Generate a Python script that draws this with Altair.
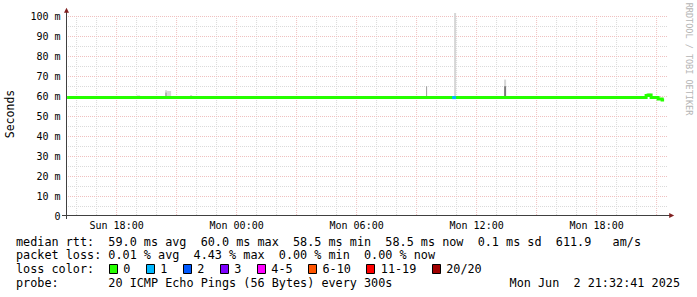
import altair as alt
import pandas as pd

FONT = "DejaVu Sans Mono"

# ---------------- data ----------------
# median RTT (ms) as step values, times in UTC
median_times = [
    "2025-06-01T15:33:00Z", "2025-06-01T19:12:00Z", "2025-06-01T22:12:00Z",
    "2025-06-02T04:42:00Z", "2025-06-02T10:48:00Z", "2025-06-02T11:00:00Z",
    "2025-06-02T17:12:00Z", "2025-06-02T20:30:00Z", "2025-06-02T20:36:00Z",
    "2025-06-02T20:45:00Z", "2025-06-02T21:06:00Z", "2025-06-02T21:18:00Z",
    "2025-06-02T21:24:00Z",
]
median_values = [59.2, 59.2, 59.2, 59.2, 59.2, 59.2, 59.2, 60.2, 60.5,
                 59.2, 58.5, 58.0, 58.0]

# periods with packet loss (number of lost pings) drawn on the median line
loss_start = ["2025-06-02T10:48:00Z"]
loss_end = ["2025-06-02T11:00:00Z"]
loss_value = [59.2]
loss_count = ["1"]

# smoke (spread of the 20 pings)
smoke_start = ["2025-06-01T19:02:00Z", "2025-06-01T20:27:00Z", "2025-06-01T20:27:00Z",
               "2025-06-01T20:33:00Z", "2025-06-01T21:42:00Z", "2025-06-02T09:30:00Z",
               "2025-06-02T10:54:00Z", "2025-06-02T13:24:00Z", "2025-06-02T13:24:00Z",
               "2025-06-02T20:36:00Z"]
smoke_end = ["2025-06-01T19:12:00Z", "2025-06-01T20:33:00Z", "2025-06-01T20:33:00Z",
             "2025-06-01T20:45:00Z", "2025-06-01T21:48:00Z", "2025-06-02T09:33:00Z",
             "2025-06-02T11:00:00Z", "2025-06-02T13:30:00Z", "2025-06-02T13:30:00Z",
             "2025-06-02T20:45:00Z"]
smoke_low = [59.2, 59.2, 59.2, 59.2, 59.2, 59.2, 59.2, 64.9, 59.2, 59.8]
smoke_high = [60.3, 62.9, 61.7, 62.5, 60.5, 64.9, 101.5, 68.2, 64.9, 61.3]
smoke_band = ["outer", "outer", "inner", "outer", "outer", "mid", "outer", "outer",
              "dark", "outer"]

y_ticks = [0, 10, 20, 30, 40, 50, 60, 70, 80, 90, 100]
y_minor = [5, 15, 25, 35, 45, 55, 65, 75, 85, 95]

rtt_stats = [59.0, 60.0, 58.5, 58.5, 0.1, 611.9]   # avg, max, min, now, sd, am/s
loss_stats = [0.01, 4.43, 0.00, 0.00]              # avg, max, min, now
loss_labels = ["0", "1", "2", "3", "4-5", "6-10", "11-19", "20/20"]
loss_colors = ["#26ff00", "#00b8ff", "#0059ff", "#7e00ff", "#ff00ff", "#ff5500",
               "#ff0000", "#a00000"]
probe_text = "20 ICMP Echo Pings (56 Bytes) every 300s"
stamp_text = "Mon Jun  2 21:32:41 2025"

# ---------------- scales ----------------
def dt(d, h, m=0, s=0):
    return alt.DateTime(year=2025, month=6, date=d, hours=h, minutes=m, seconds=s, utc=True)

xscale = alt.Scale(type="utc", domain=[dt(1, 15, 32, 41), dt(2, 21, 32, 41)])
yscale = alt.Scale(domain=[0, 100], nice=False, zero=False)

hours = pd.date_range("2025-06-01 16:00", "2025-06-02 21:00", freq="h")
major_h = [h.strftime("%Y-%m-%dT%H:%M:00Z") for h in hours if h.hour % 3 == 0]
minor_h = [h.strftime("%Y-%m-%dT%H:%M:00Z") for h in hours if h.hour % 3 != 0]

GRID_GREY = "#dadada"
GRID_RED = "#efc0c0"

xaxis = alt.Axis(
    values=[dt(1, 18), dt(2, 0), dt(2, 6), dt(2, 12), dt(2, 18)],
    format="%a %H:%M", labelFont=FONT, labelFontSize=10, labelColor="#000000",
    ticks=False, domain=False, grid=False, labelPadding=4, title=None,
    labelOverlap=False, labelFlush=False,
)
yaxis = alt.Axis(
    values=y_ticks, labelExpr="datum.value == 0 ? '0' : datum.value + ' m'",
    labelFont=FONT, labelFontSize=10, labelColor="#000000", ticks=False,
    domain=False, grid=False, labelPadding=7, title=None,
)

vminor = alt.Chart(pd.DataFrame({"t": minor_h})).mark_rule(
    color=GRID_GREY, strokeDash=[1, 1], xOffset=0.5
).encode(x=alt.X("t:T", scale=xscale, axis=xaxis))
vmajor = alt.Chart(pd.DataFrame({"t": major_h})).mark_rule(
    color=GRID_RED, strokeDash=[1, 1], xOffset=0.5
).encode(x=alt.X("t:T", scale=xscale, axis=xaxis))
hminor = alt.Chart(pd.DataFrame({"v": y_minor})).mark_rule(
    color=GRID_GREY, strokeDash=[1, 1], yOffset=0.5
).encode(y=alt.Y("v:Q", scale=yscale, axis=yaxis))
hmajor = alt.Chart(pd.DataFrame({"v": y_ticks[1:]})).mark_rule(
    color=GRID_RED, strokeDash=[1, 1], yOffset=0.5
).encode(y=alt.Y("v:Q", scale=yscale, axis=yaxis))

smoke_df = pd.DataFrame({"t0": smoke_start, "t1": smoke_end, "lo": smoke_low,
                         "hi": smoke_high, "band": smoke_band})
smoke = alt.Chart(smoke_df).mark_rect().encode(
    x=alt.X("t0:T", scale=xscale, axis=xaxis), x2="t1:T",
    y=alt.Y("lo:Q", scale=yscale, axis=yaxis), y2="hi:Q",
    fill=alt.Fill("band:N", legend=None, scale=alt.Scale(
        domain=["outer", "inner", "mid", "dark"],
        range=["#d6d6d6", "#b0b0b0", "#9c9c9c", "#7a7a7a"])),
)

med_df = pd.DataFrame({"t": median_times, "v": median_values})
median = alt.Chart(med_df).mark_line(
    interpolate="step-after", strokeWidth=3, color=loss_colors[0]
).encode(x=alt.X("t:T", scale=xscale, axis=xaxis),
         y=alt.Y("v:Q", scale=yscale, axis=yaxis))

loss_df = pd.DataFrame({"t0": loss_start, "t1": loss_end, "v": loss_value, "n": loss_count})
loss = alt.Chart(loss_df).mark_rule(strokeWidth=3).encode(
    x=alt.X("t0:T", scale=xscale, axis=xaxis), x2="t1:T",
    y=alt.Y("v:Q", scale=yscale, axis=yaxis),
    stroke=alt.Stroke("n:N", legend=None,
                      scale=alt.Scale(domain=loss_labels, range=loss_colors)),
)

one = pd.DataFrame({"k": [0]})
AXIS_C = "#404040"
ARROW_C = "#802020"
yline = alt.Chart(one).mark_rule(color=AXIS_C, strokeWidth=1).encode(
    x=alt.value(-0.5), y=alt.value(-6), y2=alt.value(203))
xline = alt.Chart(one).mark_rule(color=AXIS_C, strokeWidth=1).encode(
    x=alt.value(-5), x2=alt.value(603), y=alt.value(199.5))
up_arrow = alt.Chart(one).mark_point(
    shape="M-1,1L1,1L0,-1Z", filled=True, size=25, color=ARROW_C, opacity=1
).encode(x=alt.value(-0.5), y=alt.value(-5.7))
right_arrow = alt.Chart(one).mark_point(
    shape="M-1,-1L1,0L-1,1Z", filled=True, size=25, color=ARROW_C, opacity=1
).encode(x=alt.value(604.7), y=alt.value(199.5))


def nb(s):
    return s.replace(" ", "\u00a0")


def text(txt, x, y, size=11.8, align="left", angle=0, color="#000000"):
    return alt.Chart(pd.DataFrame({"s": [nb(txt)]})).mark_text(
        font=FONT, fontSize=size, align=align, baseline="middle", angle=angle, color=color
    ).encode(text="s:N", x=alt.value(x), y=alt.value(y))


L = 67  # plot left in page pixels
T = 16  # plot top in page pixels
CW = 7.1  # char width of legend font

row1 = ("median rtt:  {:.1f} ms avg  {:.1f} ms max  {:.1f} ms min  {:.1f} ms now  "
        "{:.1f} ms sd  {:.1f}   am/s").format(*rtt_stats)
row2 = "packet loss: {:.2f} % avg  {:.2f} % max  {:.2f} % min  {:.2f} % now".format(*loss_stats)

texts = [
    text(row1, 16 - L, 241.7 - T),
    text(row2, 16 - L, 255.3 - T),
    text("loss color:", 16 - L, 269.3 - T),
    text("probe:       " + probe_text, 16 - L, 283.3 - T),
    text(stamp_text, 680 - L, 283.3 - T, align="right"),
    text("Seconds", 11 - L, 114 - T, size=11.5, angle=270, align="center"),
    text("RRDTOOL / TOBI OETIKER", 688.5 - L, 59 - T, size=8.5, angle=90,
         align="center", color="#b4b4b4"),
]

boxes = []
bx = 108.7
for lab, col in zip(loss_labels, loss_colors):
    x0 = round(bx) + 0.5
    boxes.append(alt.Chart(one).mark_rect(
        fill=col, stroke="#000000", strokeWidth=1
    ).encode(x=alt.value(x0 - L), x2=alt.value(x0 + 8 - L),
             y=alt.value(265 - T - 0.5), y2=alt.value(274 - T - 0.5)))
    lx = bx + 14.6
    texts.append(text(lab, lx - L, 269.3 - T))
    bx = lx + len(lab) * CW + 15.3

chart = alt.layer(
    vminor, vmajor, hminor, hmajor, smoke, median, loss,
    yline, xline, up_arrow, right_arrow, *boxes, *texts
).resolve_scale(fill="independent", stroke="independent").properties(
    width=600, height=200, autosize="none", background="white",
    padding={"left": L, "top": T, "right": 30, "bottom": 81},
).configure_view(stroke=None)

chart.save("out.html", embed_options={"renderer": "svg", "actions": False})
